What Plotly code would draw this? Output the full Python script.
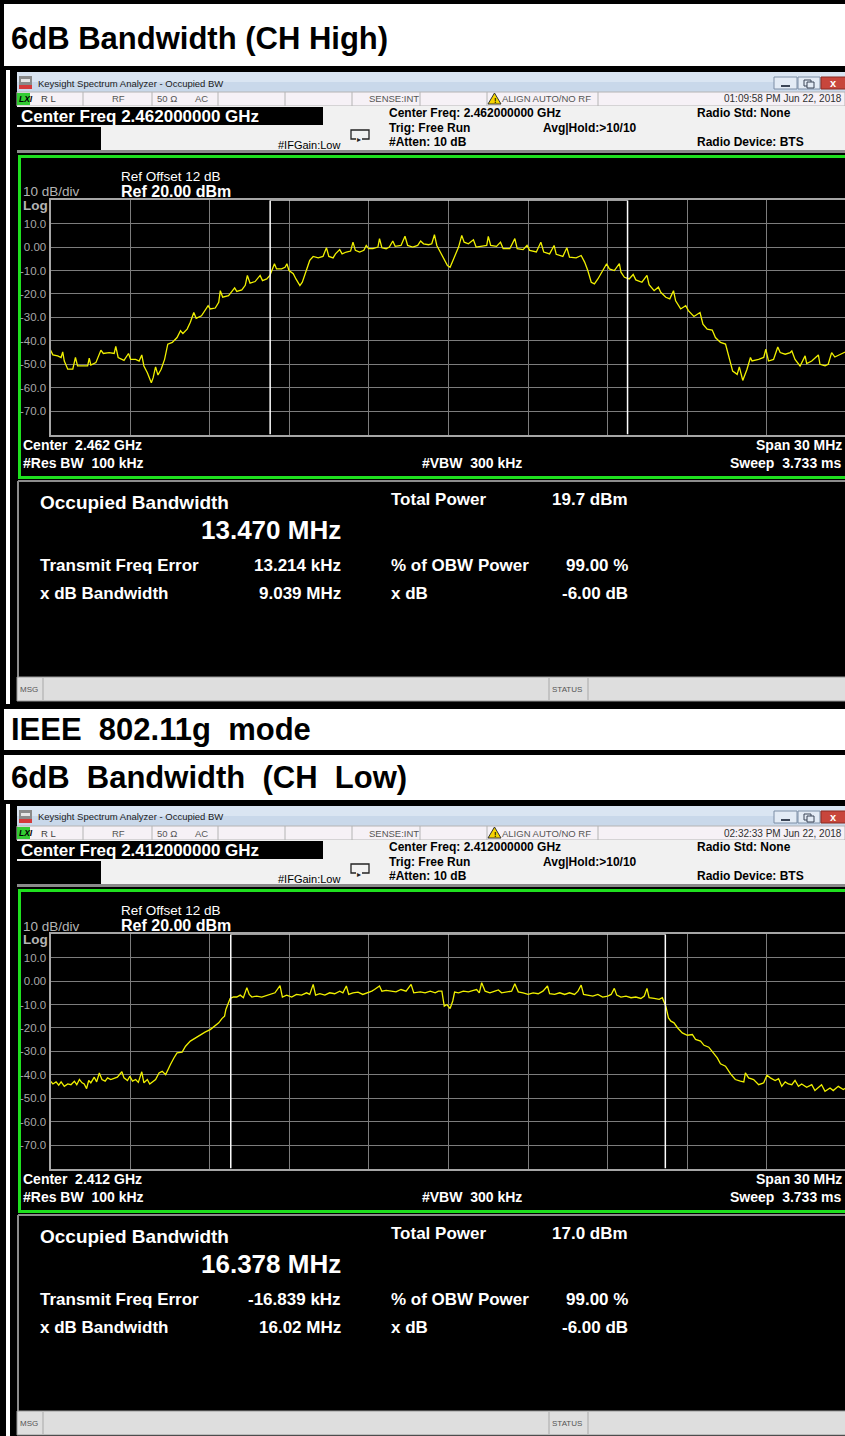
import plotly.graph_objects as go

W, H = 845, 1436

# ---- Sweep traces: frequency offset from centre (MHz) and level (dBm) ----
high_freq_mhz = [
    -15.00, -14.91, -14.73, -14.60, -14.54, -14.48, -14.35, -14.16, -14.06, -13.98,
    -13.79, -13.60, -13.54, -13.48, -13.29, -13.10, -13.01, -12.79, -12.60, -12.54,
    -12.45, -12.23, -12.06, -11.98, -11.79, -11.66, -11.56, -11.48, -11.35, -11.20,
    -11.13, -11.04, -10.95, -10.83, -10.70, -10.58, -10.41, -10.23, -10.10, -10.01,
    -9.85, -9.73, -9.60, -9.51, -9.31, -9.16, -9.06, -8.98, -8.79, -8.66,
    -8.60, -8.51, -8.29, -8.06, -7.98, -7.79, -7.66, -7.58, -7.48, -7.29,
    -7.10, -7.01, -6.85, -6.73, -6.66, -6.56, -6.48, -6.29, -6.16, -6.09,
    -6.01, -5.85, -5.75, -5.60, -5.51, -5.35, -5.23, -5.10, -4.91, -4.73,
    -4.60, -4.51, -4.35, -4.26, -4.10, -4.01, -3.85, -3.69, -3.60, -3.51,
    -3.35, -3.19, -3.10, -3.01, -2.85, -2.66, -2.60, -2.51, -2.35, -2.23,
    -2.10, -2.01, -1.79, -1.64, -1.54, -1.35, -1.16,
    -1.05, -0.94, -0.75, -0.63, -0.53, -0.44, -0.31, -0.16, -0.04, 0.06,
    0.19, 0.38, 0.50, 0.59, 0.75, 0.94, 1.04, 1.25, 1.44, 1.50,
    1.59, 1.81, 1.96, 2.06, 2.31, 2.50, 2.59, 2.81, 2.96, 3.06,
    3.31, 3.48, 3.59, 3.81, 3.98, 4.06, 4.31, 4.46, 4.56, 4.81,
    5.00, 5.13, 5.25, 5.38, 5.50, 5.63, 5.81, 5.96, 6.06, 6.25,
    6.44, 6.50, 6.63, 6.81, 6.96, 7.06, 7.29, 7.48, 7.56, 7.75,
    7.91, 8.00, 8.19, 8.34, 8.48, 8.56, 8.75, 8.94, 9.04, 9.25,
    9.48, 9.59, 9.75, 9.94, 10.06, 10.25, 10.44, 10.56, 10.71, 10.88,
    10.96, 11.09, 11.25, 11.38, 11.44, 11.69, 11.88, 11.96, 12.06, 12.25,
    12.41, 12.50, 12.69, 12.88, 12.94, 13.06, 13.25, 13.44, 13.50, 13.69,
    13.94, 14.00, 14.19, 14.31, 14.44, 14.56, 14.88, 15.00,
]
high_level_dbm = [
    -43.9, -46.0, -46.4, -47.1, -44.7, -48.6, -52.1, -52.1, -47.1, -50.7,
    -50.7, -50.7, -47.4, -50.3, -49.3, -44.0, -45.4, -45.0, -45.4, -42.4,
    -47.1, -48.3, -45.4, -47.9, -47.9, -48.6, -46.0, -50.7, -53.6, -57.9,
    -55.7, -51.1, -54.6, -52.1, -47.9, -41.4, -40.7, -38.6, -35.7, -36.9,
    -35.0, -32.1, -27.9, -30.4, -29.3, -26.9, -25.0, -26.4, -26.0, -23.6,
    -18.6, -21.4, -20.7, -17.4, -18.9, -18.3, -16.3, -12.1, -15.4, -14.7,
    -12.1, -14.3, -13.6, -12.1, -10.0, -7.1, -9.3, -9.3, -8.6, -7.1,
    -10.0, -11.4, -13.6, -16.4, -15.0, -10.0, -5.7, -4.0, -4.6, -4.0,
    -0.3, -4.0, -4.6, -2.9, -1.1, -2.9, -2.1, -1.7, 2.1, -1.4,
    -2.1, -1.4, 0.7, -0.7, -0.7, 0.0, 3.6, -0.3, -0.7, 0.0,
    2.6, 0.3, 0.7, 4.6, 0.7, 0.0, 0.7,
    2.6, 1.4, 1.0, 1.4, 5.3, 0.7, -2.1, -5.7, -7.9, -8.6,
    -5.0, 0.0, 5.0, 2.1, 1.4, 3.1, 0.0, 0.3, 0.7, 4.6,
    0.7, 0.3, 2.1, -0.7, -0.7, 3.6, -0.7, -1.1, 0.7, -1.4,
    -2.1, 2.1, -2.1, -2.9, 0.7, -3.1, -4.0, -0.3, -4.3, -4.6,
    -3.6, -6.4, -10.0, -15.0, -15.7, -13.6, -10.0, -7.1, -9.3, -10.0,
    -7.1, -10.7, -12.9, -13.6, -11.7, -14.0, -15.0, -12.1, -16.0, -18.6,
    -17.1, -19.3, -21.4, -22.1, -18.6, -22.9, -26.4, -25.0, -27.1, -29.6,
    -27.9, -32.9, -35.0, -35.4, -38.6, -40.7, -41.4, -47.1, -52.9, -54.3,
    -51.1, -56.9, -52.1, -47.1, -48.6, -47.9, -47.1, -43.6, -48.6, -47.9,
    -42.6, -45.0, -45.7, -45.0, -44.3, -47.9, -50.7, -46.4, -49.7, -48.6,
    -46.0, -50.0, -50.7, -50.0, -45.0, -46.9, -45.0, -44.5,
]

low_freq_mhz = [
    -15.00, -14.91, -14.79, -14.69, -14.60, -14.48, -14.35, -14.23, -14.10, -14.01,
    -13.91, -13.81, -13.73, -13.64, -13.56, -13.48, -13.35, -13.26, -13.16, -13.06,
    -12.94, -12.85, -12.73, -12.60, -12.48, -12.31, -12.23, -12.10, -12.01, -11.91,
    -11.79, -11.69, -11.56, -11.48, -11.35, -11.26, -11.14, -11.04, -10.91, -10.79,
    -10.66, -10.60, -10.48, -10.35, -10.23, -10.04, -9.91, -9.73, -9.54, -9.35,
    -9.16, -8.98, -8.79, -8.66, -8.54, -8.44, -8.39, -8.31, -8.23, -8.10,
    -7.98, -7.85, -7.73, -7.60, -7.51, -7.41, -7.23, -7.04, -6.85, -6.73,
    -6.54, -6.35, -6.26, -6.10, -5.91, -5.73, -5.54, -5.35, -5.23, -5.10,
    -5.01, -4.85, -4.66, -4.48, -4.29, -4.10, -3.98, -3.85, -3.76, -3.60,
    -3.41, -3.23, -3.04, -2.89, -2.79, -2.60, -2.51, -2.35, -2.16, -1.98,
    -1.79, -1.60, -1.41, -1.31,
    -1.06, -0.88, -0.69, -0.50, -0.38, -0.25, -0.16, -0.06, 0.06, 0.16,
    0.23, 0.38, 0.56, 0.75, 0.94, 1.06, 1.16, 1.25, 1.38, 1.56,
    1.75, 1.88, 2.00, 2.19, 2.38, 2.50, 2.63, 2.81, 3.00, 3.19,
    3.38, 3.56, 3.73, 3.81, 4.00, 4.19, 4.38, 4.56, 4.75, 4.88,
    5.00, 5.09, 5.25, 5.44, 5.63, 5.81, 6.00, 6.13, 6.25, 6.34,
    6.50, 6.69, 6.88, 7.06, 7.25, 7.38, 7.48, 7.56, 7.75, 7.94,
    8.06, 8.19, 8.29, 8.38, 8.50, 8.63, 8.81, 9.00, 9.19, 9.31,
    9.50, 9.63, 9.81, 9.94, 10.13, 10.25, 10.44, 10.63, 10.81, 11.00,
    11.13, 11.19, 11.31, 11.50, 11.69, 11.88, 12.00, 12.13, 12.31, 12.44,
    12.56, 12.69, 12.81, 12.94, 13.06, 13.19, 13.31, 13.50, 13.69, 13.81,
    13.94, 14.06, 14.19, 14.38, 14.50, 14.69, 14.88, 15.00,
]
low_level_dbm = [
    -42.7, -43.9, -43.0, -44.4, -43.0, -44.9, -43.9, -44.2, -42.7, -44.2,
    -42.0, -43.4, -43.9, -45.9, -42.4, -43.4, -41.0, -43.0, -39.2, -42.0,
    -42.7, -41.3, -42.0, -41.3, -41.0, -38.7, -41.3, -42.4, -40.6, -42.7,
    -42.0, -43.2, -38.7, -43.4, -42.0, -43.9, -43.0, -42.0, -39.2, -38.5,
    -39.9, -38.2, -35.6, -32.8, -30.6, -30.3, -27.8, -25.6, -24.2, -22.8,
    -21.7, -20.7, -19.2, -17.8, -16.0, -15.0, -12.1, -9.3, -7.4, -6.8,
    -6.8, -6.0, -7.1, -2.8, -5.7, -6.8, -6.4, -6.8, -6.0, -5.7,
    -5.0, -1.9, -6.8, -6.0, -6.8, -5.7, -6.0, -5.0, -5.7, -1.4,
    -6.0, -5.4, -6.0, -5.0, -5.4, -4.3, -5.0, -2.1, -5.7, -5.0,
    -4.7, -5.7, -5.0, -4.3, -3.6, -2.1, -4.3, -4.0, -4.3, -4.6,
    -3.6, -4.3, -1.4, -5.0,
    -4.6, -5.0, -4.3, -5.0, -4.3, -4.3, -10.7, -10.0, -11.7, -8.5,
    -4.7, -5.0, -4.3, -4.6, -4.0, -3.6, -5.0, -0.7, -4.3, -5.0,
    -4.3, -3.8, -5.0, -4.6, -4.3, -1.1, -4.6, -5.0, -5.7, -5.0,
    -5.4, -4.3, -2.1, -5.4, -5.7, -5.0, -5.7, -5.0, -5.7, -4.3,
    -1.7, -5.7, -6.0, -6.4, -5.7, -6.8, -6.4, -5.7, -3.1, -6.0,
    -6.8, -6.4, -7.1, -6.8, -7.4, -6.4, -3.1, -7.1, -7.4, -7.8,
    -7.1, -10.7, -15.7, -17.1, -17.8, -19.9, -22.1, -23.1, -22.8, -24.9,
    -25.6, -27.4, -28.2, -29.9, -32.8, -35.3, -36.3, -39.6, -42.0, -42.7,
    -43.0, -39.2, -41.3, -42.0, -44.2, -43.4, -40.2, -41.3, -42.4, -41.6,
    -44.9, -43.0, -43.9, -44.2, -42.4, -44.9, -43.9, -45.3, -44.2, -46.7,
    -45.3, -44.2, -47.0, -45.6, -46.7, -44.9, -46.3, -45.5,
]

# ---- Measurement readouts (CH High, CH Low) ----
section_titles = ["6dB Bandwidth (CH High)", "6dB\u00a0 Bandwidth\u00a0 (CH\u00a0 Low)"]
mode_title = "IEEE\u00a0 802.11g\u00a0 mode"
center_freq_ghz = ["2.462000000", "2.412000000"]
center_short_ghz = ["2.462", "2.412"]
timestamps = ["01:09:58 PM Jun 22, 2018", "02:32:33 PM Jun 22, 2018"]
occupied_bw_mhz = [13.470, 16.378]
total_power_dbm = [19.7, 17.0]
freq_error_khz = [13.214, -16.839]
xdb_bw_text = ["9.039 MHz", "16.02 MHz"]
obw_power_pct = 99.00
x_db = -6.00

span_mhz = 30.0
ref_level_dbm = 20.0
ref_offset_db = 12
db_per_div = 10
level_ticks = [10, 0, -10, -20, -30, -40, -50, -60, -70]
level_tick_text = ["10.0", "0.00", "-10.0", "-20.0", "-30.0", "-40.0", "-50.0", "-60.0", "-70.0"]
freq_grid_mhz = [-12, -9, -6, -3, 0, 3, 6, 9, 12]

SANS = "Liberation Sans, Arial, sans-serif"
NARROW = "Liberation Sans Narrow, Liberation Sans, Arial, sans-serif"
GRID_LEFT = 50.5
PX_PER_MHZ = 79.6 / 3.0
PANEL_STEP = 734

shapes, annotations = [], []


def px(x):
    return x / W


def py(y):
    return 1 - y / H


def box(x0, y0, x1, y1, fill=None, line=None, lw=0, layer="below"):
    shapes.append(dict(
        type="rect", xref="paper", yref="paper",
        x0=px(x0), x1=px(x1), y0=py(y1), y1=py(y0),
        fillcolor=fill or "rgba(0,0,0,0)",
        line=dict(color=line or "rgba(0,0,0,0)", width=lw), layer=layer))


def seg(x0, y0, x1, y1, color, width=1, layer="below"):
    shapes.append(dict(
        type="line", xref="paper", yref="paper",
        x0=px(x0), x1=px(x1), y0=py(y0), y1=py(y1),
        line=dict(color=color, width=width), layer=layer))


def label(x, y, text, size, color="#ffffff", anchor="left", bold=False, family=SANS):
    annotations.append(dict(
        xref="paper", yref="paper", x=px(x), y=py(y), text=text,
        showarrow=False, xanchor=anchor, yanchor="middle", borderpad=0,
        font=dict(family=family, size=size, color=color,
                  weight="bold" if bold else "normal")))


# ---- Page background bands ----
box(4, 4, 845, 66, "#ffffff")
label(10, 38, section_titles[0], 31, "#000000", bold=True)
box(4, 709, 845, 750, "#ffffff")
label(10, 729, mode_title, 31, "#000000", bold=True)
box(4, 755, 845, 800, "#ffffff")
label(10, 777, section_titles[1], 31, "#000000", bold=True)

traces = [(high_freq_mhz, high_level_dbm), (low_freq_mhz, low_level_dbm)]

fig = go.Figure()
layout_axes = {}

for i in range(2):
    dy = PANEL_STEP * i
    sfx = "" if i == 0 else "2"
    bottom_edge = 704 + dy if i == 0 else H

    # window outline strip
    box(6, 70 + dy, 10, bottom_edge, "#ffffff")

    # window title bar
    box(17, 72 + dy, 845, 82 + dy, "#dae5f2")
    box(17, 82 + dy, 845, 92 + dy, "#c9d8ea")
    box(19, 76 + dy, 32, 89 + dy, "#8a8a8a")
    box(19, 85 + dy, 32, 89 + dy, "#d43b3b")
    box(21, 79 + dy, 30, 82 + dy, "#e6e6e6")
    label(37, 83 + dy, "Keysight Spectrum Analyzer - Occupied BW", 9.5, "#1b1b1b", family=SANS)
    box(774, 77 + dy, 797, 89 + dy, "#e3ebf5", "#7d8ea6", 1)
    seg(781, 86 + dy, 790, 86 + dy, "#3b4556", 2)
    box(798, 77 + dy, 820, 89 + dy, "#e3ebf5", "#7d8ea6", 1)
    box(804, 80 + dy, 811, 86 + dy, None, "#3b4556", 1)
    box(807, 82 + dy, 814, 88 + dy, "#e3ebf5", "#3b4556", 1)
    box(821, 77 + dy, 846, 89 + dy, "#c8463c", "#8b2a22", 1)
    label(833, 83 + dy, "x", 11, "#ffffff", anchor="center", bold=True)

    # status row
    box(17, 92 + dy, 845, 106 + dy, "#f6f1f6", "#b4b4b4", 1)
    for sx in [83, 152, 218, 285, 352, 420, 487, 598]:
        seg(sx, 92 + dy, sx, 106 + dy, "#b4b4b4", 1)
    box(17, 93 + dy, 30, 105 + dy, "#33cc33")
    label(17.5, 99 + dy, "<i>LXI</i>", 8.5, "#000000", bold=True)
    label(40, 99 + dy, "R L", 9.5, "#404040", family=NARROW)
    label(119, 99 + dy, "RF", 9.5, "#555555", anchor="center", family=NARROW)
    label(156, 99 + dy, "50 \u03a9", 9.5, "#555555", family=NARROW)
    label(201, 99 + dy, "AC", 9.5, "#555555", anchor="center", family=NARROW)
    label(394, 99 + dy, "SENSE:INT", 9.5, "#555555", anchor="center", family=NARROW)
    shapes.append(dict(
        type="path", xref="paper", yref="paper", layer="below",
        path=f"M {px(488)},{py(104 + dy)} L {px(494.5)},{py(93 + dy)} L {px(501)},{py(104 + dy)} Z",
        fillcolor="#f5d400", line=dict(color="#333333", width=1)))
    label(494.5, 100 + dy, "!", 7, "#000000", anchor="center", bold=True)
    label(501, 99 + dy, "ALIGN AUTO/NO RF", 9.5, "#555555", family=NARROW)
    label(843, 99 + dy, timestamps[i], 10, "#303030", anchor="right", family=NARROW)

    # settings strip
    box(17, 106 + dy, 845, 151 + dy, "#f1f1f1")
    box(17, 107 + dy, 323, 125 + dy, "#000000")
    label(20, 116 + dy, f"Center Freq {center_freq_ghz[i]} GHz", 17, "#ffffff", bold=True)
    box(17, 127 + dy, 101, 150 + dy, "#000000")
    label(277, 145 + dy, "#IFGain:Low", 11, "#000000")
    box(351, 130 + dy, 369, 139 + dy, None, "#222222", 1.3)
    seg(356, 139 + dy, 362, 139 + dy, "#f1f1f1", 2)
    label(359, 140 + dy, "\u25b8", 8, "#222222", anchor="center")
    label(388, 113 + dy, f"Center Freq: {center_freq_ghz[i]} GHz", 12, "#000000", bold=True)
    label(388, 128 + dy, "Trig: Free Run", 12, "#000000", bold=True)
    label(388, 142 + dy, "#Atten: 10 dB", 12, "#000000", bold=True)
    label(542, 128 + dy, "Avg|Hold:>10/10", 12, "#000000", bold=True)
    label(696, 113 + dy, "Radio Std: None", 12, "#000000", bold=True)
    label(696, 142 + dy, "Radio Device: BTS", 12, "#000000", bold=True)
    box(17, 150 + dy, 845, 153 + dy, "#8a8a8a")

    # trace window frame
    box(19.5, 156.5 + dy, 852, 477.5 + dy, None, "#1fe01f", 3)
    label(22, 192 + dy, "10 dB/div", 13.5, "#b4b4b4")
    label(22, 205 + dy, "Log", 13.5, "#b4b4b4", bold=True)
    label(120, 176 + dy, f"Ref Offset {ref_offset_db} dB", 13.5, "#ffffff")
    label(120, 191 + dy, f"Ref {ref_level_dbm:.2f} dBm", 16, "#ffffff", bold=True)
    label(22, 445 + dy, f"Center\u00a0 {center_short_ghz[i]} GHz", 14, "#ffffff", bold=True)
    label(22, 463 + dy, "#Res BW\u00a0 100 kHz", 14, "#ffffff", bold=True)
    label(421, 463 + dy, "#VBW\u00a0 300 kHz", 14, "#ffffff", bold=True)
    label(843, 445 + dy, f"Span {span_mhz:.0f} MHz", 14, "#ffffff", anchor="right", bold=True)
    label(843, 463 + dy, "Sweep\u00a0 3.733 ms", 14, "#ffffff", anchor="right", bold=True)

    # measurement summary
    seg(18, 481 + dy, 845, 481 + dy, "#8c8c8c", 2)
    seg(18, 481 + dy, 18, 677 + dy, "#8c8c8c", 2)
    label(39, 502 + dy, "Occupied Bandwidth", 19, bold=True)
    label(342, 530 + dy, f"{occupied_bw_mhz[i]:.3f} MHz", 26, anchor="right", bold=True)
    label(39, 565 + dy, "Transmit Freq Error", 17, bold=True)
    label(342, 565 + dy, f"{freq_error_khz[i]:.3f} kHz", 17, anchor="right", bold=True)
    label(39, 593 + dy, "x dB Bandwidth", 17, bold=True)
    label(342, 593 + dy, xdb_bw_text[i], 17, anchor="right", bold=True)
    label(390, 499 + dy, "Total Power", 17, bold=True)
    label(629, 499 + dy, f"{total_power_dbm[i]:.1f} dBm", 17, anchor="right", bold=True)
    label(390, 565 + dy, "% of OBW Power", 17, bold=True)
    label(629, 565 + dy, f"{obw_power_pct:.2f} %", 17, anchor="right", bold=True)
    label(390, 593 + dy, "x dB", 17, bold=True)
    label(629, 593 + dy, f"{x_db:.2f} dB", 17, anchor="right", bold=True)

    # message bar
    box(17, 677 + dy, 846, 701 + dy, "#dedede", "#9a9a9a", 1)
    for sx in [43, 549, 588]:
        seg(sx, 678 + dy, sx, 700 + dy, "#a8a8a8", 1)
    label(19, 689 + dy, "MSG", 8, "#555555", family=NARROW)
    label(551, 689 + dy, "STATUS", 8, "#555555", family=NARROW)

    # spectrum axes
    grid_top, grid_bottom = 200.2 + dy, 434.6 + dy
    x_right = -span_mhz / 2 + (W - GRID_LEFT) / PX_PER_MHZ
    layout_axes["xaxis" + sfx] = dict(
        domain=[px(GRID_LEFT), 1.0], range=[-span_mhz / 2, x_right],
        anchor="y" + sfx, tickvals=freq_grid_mhz, showticklabels=False, ticks="",
        showgrid=True, gridcolor="#7c7c7c", gridwidth=1, zeroline=False,
        showline=True, linecolor="#a6a6a6", linewidth=2, mirror=True, fixedrange=True)
    layout_axes["yaxis" + sfx] = dict(
        domain=[py(grid_bottom), py(grid_top)],
        range=[ref_level_dbm - 10 * db_per_div, ref_level_dbm],
        anchor="x" + sfx, tickvals=level_ticks, ticktext=level_tick_text, ticks="",
        tickfont=dict(family=SANS, size=11.5, color="#a8a8a8"),
        showgrid=True, gridcolor="#7c7c7c", gridwidth=1, zeroline=False,
        showline=True, linecolor="#a6a6a6", linewidth=2, mirror=False, fixedrange=True)

    fx, fy = traces[i]
    fig.add_trace(go.Scatter(
        x=fx, y=fy, mode="lines", xaxis="x" + sfx, yaxis="y" + sfx,
        line=dict(color="#f0f000", width=1.3), hoverinfo="skip", showlegend=False))

    # occupied-bandwidth markers
    f0 = freq_error_khz[i] / 1000.0
    lo_edge = f0 - occupied_bw_mhz[i] / 2
    hi_edge = f0 + occupied_bw_mhz[i] / 2
    for edge in (lo_edge, hi_edge):
        shapes.append(dict(
            type="line", xref="x" + sfx, yref="y" + sfx, x0=edge, x1=edge,
            y0=ref_level_dbm - 10 * db_per_div, y1=ref_level_dbm,
            line=dict(color="#ffffff", width=1.5), layer="above"))
    shapes.append(dict(
        type="line", xref="x" + sfx, yref="y" + sfx, x0=lo_edge, x1=hi_edge,
        y0=ref_level_dbm, y1=ref_level_dbm,
        line=dict(color="#d2d2d2", width=1.5), layer="above"))

fig.update_layout(
    width=W, height=H, margin=dict(l=0, r=0, t=0, b=0),
    paper_bgcolor="#000000", plot_bgcolor="#000000",
    showlegend=False, shapes=shapes, annotations=annotations, **layout_axes)

fig.write_html("out.html")
